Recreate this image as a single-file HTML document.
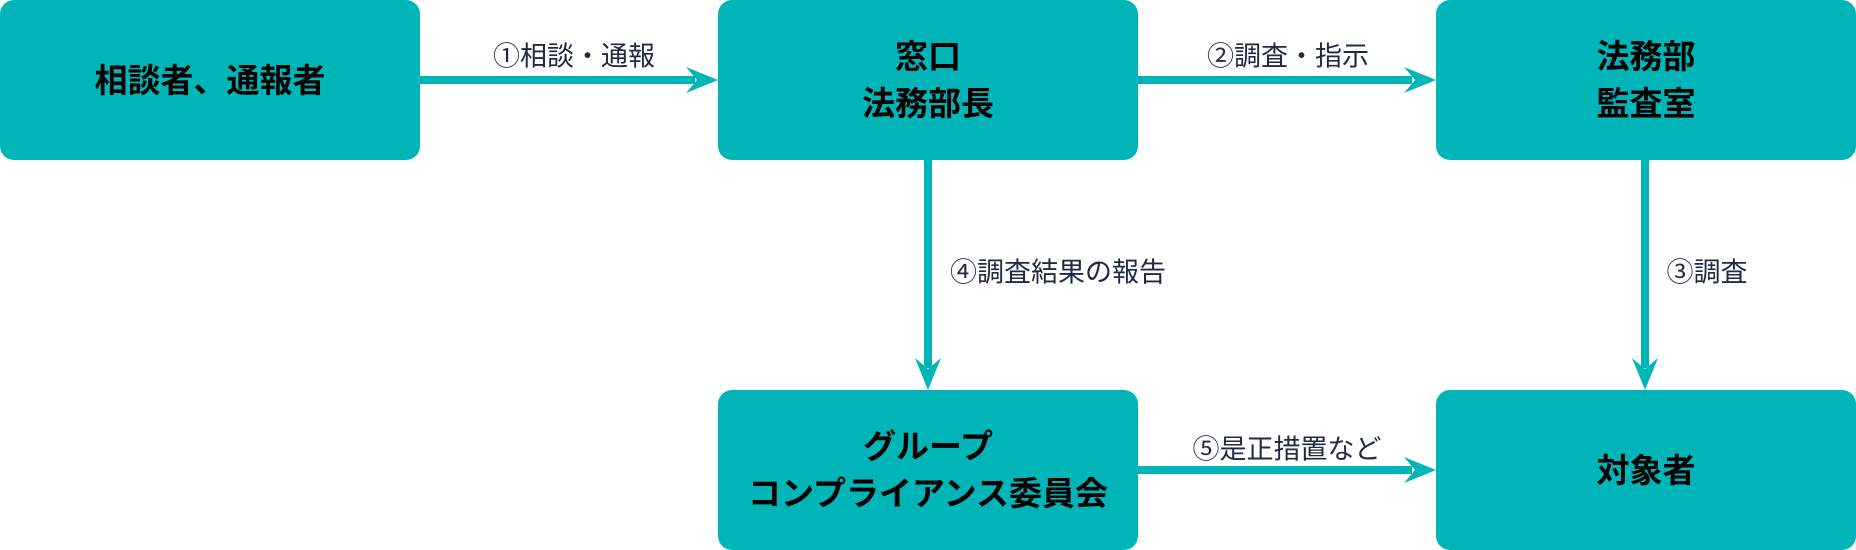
<!DOCTYPE html>
<html><head><meta charset="utf-8"><style>
body{margin:0;width:1856px;height:550px;background:#fff;position:relative;overflow:hidden;font-family:"Liberation Sans","Noto Sans CJK JP",sans-serif}
.b{position:absolute;background:#00b5b8;border-radius:14px;display:flex;align-items:center;justify-content:center;text-align:center;font-weight:bold;font-size:33px;line-height:47px;color:#000}
.l{position:absolute;font-size:27px;color:#1f2a44;white-space:nowrap;transform:translate(-50%,-50%)}
svg{position:absolute;left:0;top:0}
</style></head><body>
<svg width="1856" height="550">
<g fill="#00b5b8" stroke="none">
<rect x="420" y="76" width="275" height="8"/>
<path d="M718 80 L686 67 L697 80 L686 93 Z"/>
<rect x="1137" y="76" width="275" height="8"/>
<path d="M1436 80 L1404 67 L1415 80 L1404 93 Z"/>
<rect x="1137" y="466" width="275" height="8"/>
<path d="M1436 470 L1404 457 L1415 470 L1404 483 Z"/>
<rect x="924" y="160" width="8" height="208"/>
<path d="M928 390 L915 358 L928 369 L941 358 Z"/>
<rect x="1641" y="160" width="8" height="208"/>
<path d="M1645 390 L1632 358 L1645 369 L1658 358 Z"/>
</g>
</svg>
<div class="b" style="left:0;top:0;width:420px;height:160px">相談者、通報者</div>
<div class="b" style="left:718px;top:0;width:420px;height:160px">窓口<br>法務部長</div>
<div class="b" style="left:1436px;top:0;width:420px;height:160px">法務部<br>監査室</div>
<div class="b" style="left:718px;top:390px;width:420px;height:160px">グループ<br>コンプライアンス委員会</div>
<div class="b" style="left:1436px;top:390px;width:420px;height:160px">対象者</div>
<div class="l" style="left:574px;top:54px">①相談・通報</div>
<div class="l" style="left:1288px;top:54px">②調査・指示</div>
<div class="l" style="left:1058px;top:270px">④調査結果の報告</div>
<div class="l" style="left:1707px;top:270px">③調査</div>
<div class="l" style="left:1287px;top:447px">⑤是正措置など</div>
</body></html>
